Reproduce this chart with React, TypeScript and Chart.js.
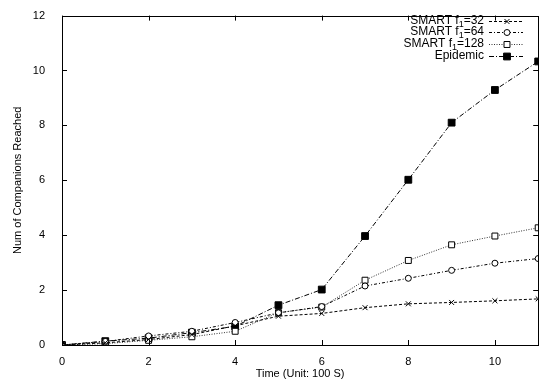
import React, { useEffect, useRef } from "react";
import { Chart, registerables } from "chart.js";
import { drawPoint } from "chart.js/helpers";

Chart.register(...registerables);

const times = [0, 1, 2, 3, 4, 5, 6, 7, 8, 9, 10, 11];
const smart32 = [0, 0.08, 0.2, 0.38, 0.7, 1.05, 1.15, 1.36, 1.5, 1.55, 1.61, 1.68];
const smart64 = [0, 0.13, 0.33, 0.5, 0.82, 1.17, 1.4, 2.15, 2.43, 2.72, 2.98, 3.15];
const smart128 = [0, 0.05, 0.17, 0.3, 0.5, 1.18, 1.38, 2.36, 3.08, 3.65, 3.97, 4.27];
const epidemic = [0, 0.14, 0.25, 0.45, 0.68, 1.45, 2.02, 3.97, 6.02, 8.1, 9.29, 10.33];
const xTicks = [0, 2, 4, 6, 8, 10];
const yTicks = [0, 2, 4, 6, 8, 10, 12];
const legendLabels = [
  { pre: "SMART f", sub: "1", post: "=32" },
  { pre: "SMART f", sub: "1", post: "=64" },
  { pre: "SMART f", sub: "1", post: "=128" },
  { pre: "Epidemic", sub: "", post: "" },
];

const FONT = "'Liberation Sans', Arial, Helvetica, sans-serif";

const framePlugin = {
  id: "frame",
  afterDraw(chart: any) {
    const { ctx, chartArea } = chart;
    const { left, right, top, bottom } = chartArea;
    const xs = chart.scales.x;
    const ys = chart.scales.y;
    ctx.save();
    ctx.strokeStyle = "#000";
    ctx.lineWidth = 1;
    ctx.setLineDash([]);
    ctx.beginPath();
    const tl = 5;
    xTicks.forEach((v) => {
      const px = Math.round(xs.getPixelForValue(v)) + 0.5;
      ctx.moveTo(px, bottom);
      ctx.lineTo(px, bottom - tl);
      ctx.moveTo(px, top);
      ctx.lineTo(px, top + tl);
    });
    yTicks.forEach((v) => {
      const py = Math.round(ys.getPixelForValue(v)) + 0.5;
      ctx.moveTo(left, py);
      ctx.lineTo(left + tl, py);
      ctx.moveTo(right, py);
      ctx.lineTo(right - tl, py);
    });
    ctx.stroke();
    ctx.strokeRect(Math.round(left) + 0.5, Math.round(top) + 0.5, Math.round(right - left), Math.round(bottom - top));

    // legend
    const textRight = 484;
    const lineX0 = 489;
    const lineX1 = 523;
    const rowsY = [21, 32, 44, 56];
    const mx = 507;
    chart.data.datasets.forEach((ds: any, i: number) => {
      const y = rowsY[i];
      const lab = legendLabels[i];
      ctx.fillStyle = "#000";
      ctx.textBaseline = "middle";
      ctx.textAlign = "left";
      const mainFont = "12px " + FONT;
      const subFont = "9px " + FONT;
      ctx.font = mainFont;
      const wPre = ctx.measureText(lab.pre).width;
      const wPost = ctx.measureText(lab.post).width;
      ctx.font = subFont;
      const wSub = lab.sub ? ctx.measureText(lab.sub).width : 0;
      let x = textRight - (wPre + wSub + wPost);
      ctx.font = mainFont;
      ctx.fillText(lab.pre, x, y);
      x += wPre;
      if (lab.sub) {
        ctx.font = subFont;
        ctx.fillText(lab.sub, x, y + 4);
        x += wSub;
      }
      ctx.font = mainFont;
      ctx.fillText(lab.post, x, y);
      ctx.strokeStyle = ds.borderColor;
      ctx.lineWidth = 1;
      ctx.setLineDash(ds.borderDash || []);
      ctx.beginPath();
      ctx.moveTo(lineX0, y + 0.5);
      ctx.lineTo(lineX1, y + 0.5);
      ctx.stroke();
      ctx.setLineDash([]);
      ctx.fillStyle = ds.pointBackgroundColor;
      ctx.strokeStyle = ds.pointBorderColor;
      drawPoint(ctx, { pointStyle: ds.pointStyle, radius: ds.pointRadius, rotation: 0, borderWidth: 1 } as any, mx, y + 0.5);
    });
    ctx.restore();
  },
};

export default function App() {
  const ref = useRef<HTMLCanvasElement>(null);
  useEffect(() => {
    const mk = (ys: number[]) => times.map((t, i) => ({ x: t, y: ys[i] }));
    const chart = new Chart(ref.current!, {
      type: "line",
      data: {
        datasets: [
          {
            label: "SMART f1=32",
            data: mk(smart32),
            borderColor: "#000",
            borderWidth: 1,
            borderDash: [3, 2],
            pointStyle: "crossRot",
            pointRadius: 3.5,
            pointBorderColor: "#000",
            pointBackgroundColor: "#fff",
            pointBorderWidth: 1,
          },
          {
            label: "SMART f1=64",
            data: mk(smart64),
            borderColor: "#000",
            borderWidth: 1,
            borderDash: [3, 2, 1, 2],
            pointStyle: "circle",
            pointRadius: 3,
            pointBorderColor: "#000",
            pointBackgroundColor: "#fff",
            pointBorderWidth: 1,
          },
          {
            label: "SMART f1=128",
            data: mk(smart128),
            borderColor: "#333",
            borderWidth: 1,
            borderDash: [1, 1.5],
            pointStyle: "rect",
            pointRadius: 4.2,
            pointBorderColor: "#000",
            pointBackgroundColor: "#fff",
            pointBorderWidth: 1,
          },
          {
            label: "Epidemic",
            data: mk(epidemic),
            borderColor: "#000",
            borderWidth: 1,
            borderDash: [5, 2, 1, 2],
            pointStyle: "rect",
            pointRadius: 4.8,
            pointBorderColor: "#000",
            pointBackgroundColor: "#000",
            pointBorderWidth: 1,
          },
        ],
      },
      options: {
        animation: false,
        responsive: false,
        events: [],
        layout: { padding: { top: 10, right: 4, left: 0, bottom: 0 } },
        plugins: { legend: { display: false }, tooltip: { enabled: false } },
        scales: {
          x: {
            type: "linear",
            min: 0,
            max: 11,
            grid: { display: false },
            border: { display: false },
            afterFit: (s: any) => {
              s.height = 36;
            },
            afterBuildTicks: (s: any) => {
              s.ticks = xTicks.map((v) => ({ value: v }));
            },
            ticks: { color: "#000", font: { family: FONT, size: 11 }, padding: 2 },
            title: {
              display: true,
              text: "Time (Unit: 100 S)",
              color: "#000",
              font: { family: FONT, size: 11 },
              padding: { top: 0, bottom: 0 },
            },
          },
          y: {
            min: 0,
            max: 12,
            grid: { display: false },
            border: { display: false },
            afterFit: (s: any) => {
              s.width = 62;
            },
            afterBuildTicks: (s: any) => {
              s.ticks = yTicks.map((v) => ({ value: v }));
            },
            ticks: { color: "#000", font: { family: FONT, size: 11 }, padding: 9 },
            title: {
              display: true,
              text: "Num of Companions Reached",
              color: "#000",
              font: { family: FONT, size: 11 },
              padding: { top: 11, bottom: 0 },
            },
          },
        },
      },
      plugins: [framePlugin],
    } as any);
    return () => chart.destroy();
  }, []);
  return (
    <div style={{ position: "fixed", left: 0, top: 0, width: 544, height: 381, background: "#fff" }}>
      <canvas ref={ref} width={544} height={381} style={{ display: "block" }} />
    </div>
  );
}
